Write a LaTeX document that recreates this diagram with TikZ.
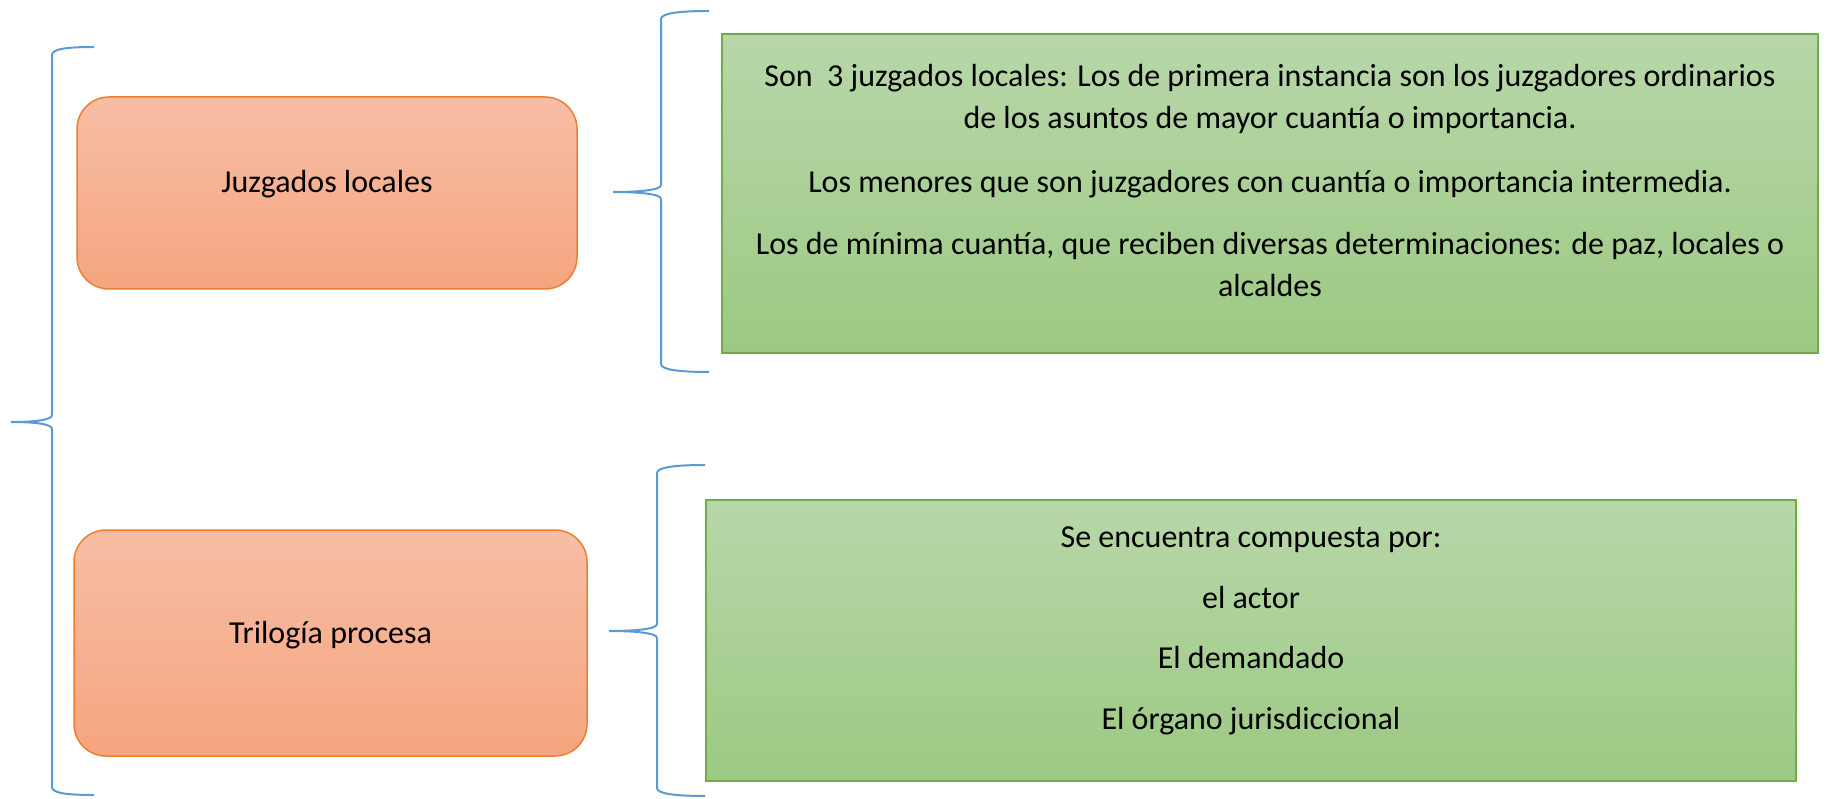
\documentclass[tikz,border=0pt]{standalone}
\usepackage{fontspec}
\setmainfont{Carlito}
\usetikzlibrary{positioning}
\definecolor{bracecol}{HTML}{5B9BD5}
\definecolor{orangeline}{HTML}{ED7D31}
\definecolor{orangetop}{HTML}{F7BEA5}
\definecolor{orangebot}{HTML}{F5A57F}
\definecolor{greenline}{HTML}{70AD47}
\definecolor{greentop}{HTML}{B7D7A9}
\definecolor{greenbot}{HTML}{9DC983}
\tikzstyle{topicnode}=[rectangle, rounded corners=32pt, draw=orangeline, line width=1.5pt, top color=orangetop, bottom color=orangebot, inner sep=0pt, align=center]
\tikzstyle{notenode}=[rectangle, draw=greenline, line width=1.5pt, top color=greentop, bottom color=greenbot, inner sep=0pt, align=center]
\tikzstyle{bracket}=[draw=bracecol, line width=2pt]

\begin{document}
\begin{tikzpicture}[x=1pt, y=-1pt, font=\fontsize{32}{42}\selectfont]
\useasboundingbox (0,0) rectangle (1829,799);
%Nodes
\node[topicnode, minimum width=500pt, text height=96pt, text depth=96pt] (juzgados) at (327,193) {Juzgados locales};
\node[topicnode, minimum width=513pt, text height=113pt, text depth=113pt] (trilogia) at (330.5,643) {Trilogía procesa};
\node[notenode, minimum width=1096pt, text height=263pt, text depth=56pt] (tipos) at (1270,193.5)
  {Son\ \ 3 juzgados locales: Los de primera instancia son los juzgadores ordinarios\\
   de los asuntos de mayor cuantía o importancia.\\[22pt]
   Los menores que son juzgadores con cuantía o importancia intermedia.\\[20pt]
   Los de mínima cuantía, que reciben diversas determinaciones: de paz, locales o\\
   alcaldes};
\node[notenode, minimum width=1090pt, text height=229pt, text depth=52pt] (partes) at (1251,640.5)
  {Se encuentra compuesta por:\\[18.5pt]
   el actor\\[18.5pt]
   El demandado\\[18.5pt]
   El órgano jurisdiccional};
%Braces
\draw[bracket] (94,47) .. controls (66,47) and (52,49) .. (52,55) -- (52,415)
  .. controls (52,420) and (35,422) .. (11,422) .. controls (35,422) and (52,424) .. (52,429)
  -- (52,787) .. controls (52,793) and (66,795) .. (94,795);
\draw[bracket] (709,11) .. controls (681,11) and (661,13) .. (661,19) -- (661,185)
  .. controls (661,190) and (640,192) .. (613,192) .. controls (640,192) and (661,194) .. (661,199)
  -- (661,364) .. controls (661,370) and (681,372) .. (709,372);
\draw[bracket] (705,465) .. controls (677,465) and (657,467) .. (657,473) -- (657,624)
  .. controls (657,629) and (636,631) .. (609,631) .. controls (636,631) and (657,633) .. (657,638)
  -- (657,788) .. controls (657,794) and (677,796) .. (705,796);
\end{tikzpicture}
\end{document}
